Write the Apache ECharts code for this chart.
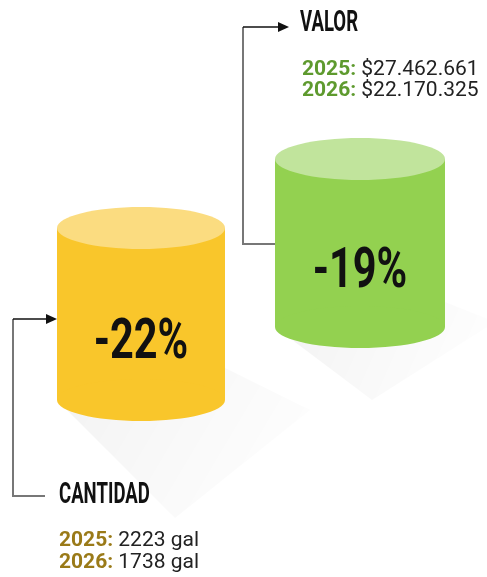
<!DOCTYPE html>
<html>
<head>
<meta charset="utf-8">
<script src="https://cdn.jsdelivr.net/npm/echarts@6/dist/echarts.min.js"></script>
<style>
  html, body { margin: 0; padding: 0; background: #fff; }
  #main { width: 487px; height: 577px; }
</style>
</head>
<body>
<div id="main"></div>
<script>
// datos
const categorias = ['CANTIDAD', 'VALOR'];
const variacion = [-22, -19];
const anios = ['2025', '2026'];
const valores2025 = [2223, 27462661];
const valores2026 = [1738, 22170325];
const unidades = ['gal', '$'];

// colores de cada cilindro
const colorCuerpo = ['#F9C62B', '#93D150'];
const colorTapa = ['#FBDC80', '#C1E49C'];
const colorAnio = ['#9A7A18', '#5E9A2E'];

// posicion de cada cilindro (px): centro x, y tapa, y base, radios
const cilindros = [
  { cx: 141, top: 228, base: 400, rx: 84, ry: 21, sombra: [[57, 400], [175, 518], [310, 410], [225, 368]] },
  { cx: 360, top: 159, base: 327, rx: 85, ry: 21, sombra: [[275, 327], [372, 400], [495, 322], [445, 302]] }
];

function formato(v) {
  return v.toString().replace(/\B(?=(\d{3})+(?!\d))/g, '.');
}
function textoValor(i, v) {
  return unidades[i] === '$' ? '$' + formato(v) : v + ' ' + unidades[i];
}

const myChart = echarts.init(document.getElementById('main'));

function renderCilindro(params, api) {
  const i = params.dataIndex;
  const c = cilindros[i];
  const p0 = api.coord([c.cx, c.top]);
  const p1 = api.coord([c.cx, c.base]);
  const rx = api.coord([c.cx + c.rx, c.top])[0] - p0[0];
  const ry = api.coord([c.cx, c.top + c.ry])[1] - p0[1];
  const pts = c.sombra.map(function (p) { return api.coord(p); });
  const pct = api.value(1);
  return {
    type: 'group',
    children: [
      {
        type: 'polygon',
        shape: { points: pts },
        style: {
          fill: new echarts.graphic.LinearGradient(0, 0, 1, 1, [
            { offset: 0, color: 'rgba(0,0,0,0.05)' },
            { offset: 0.5, color: 'rgba(0,0,0,0.025)' },
            { offset: 1, color: 'rgba(0,0,0,0)' }
          ])
        }
      },
      {
        type: 'rect',
        shape: { x: p0[0] - rx, y: p0[1], width: rx * 2, height: p1[1] - p0[1] },
        style: { fill: colorCuerpo[i] }
      },
      {
        type: 'ellipse',
        shape: { cx: p1[0], cy: p1[1], rx: rx, ry: ry },
        style: { fill: colorCuerpo[i] }
      },
      {
        type: 'ellipse',
        shape: { cx: p0[0], cy: p0[1], rx: rx, ry: ry },
        style: { fill: colorTapa[i] }
      },
      {
        type: 'text',
        x: p0[0],
        y: (p0[1] + p1[1]) / 2 + 30,
        scaleX: 0.74,
        style: {
          text: pct + '%',
          fill: '#111',
          font: 'bold 56px Roboto',
          align: 'center',
          verticalAlign: 'middle'
        }
      }
    ]
  };
}

// rótulos con flechas
const rotulos = [
  { x: 59, y: 495.5, vx: 59, vy: 541, dy: 22 },
  { x: 300, y: 24, vx: 302, vy: 70, dy: 21 }
];

const graficos = [];
categorias.forEach(function (cat, i) {
  const r = rotulos[i];
  graficos.push({
    type: 'text',
    x: r.x,
    y: r.y,
    scaleX: 0.64,
    style: { text: cat, font: 'bold 29px Roboto', fill: '#111', verticalAlign: 'middle' }
  });
  [valores2025[i], valores2026[i]].forEach(function (v, k) {
    graficos.push({
      type: 'text',
      x: r.vx,
      y: r.vy + k * r.dy,
      style: {
        text: '{a|' + anios[k] + ':}{b| ' + textoValor(i, v) + '}',
        verticalAlign: 'middle',
        rich: {
          a: { font: 'bold 21px Roboto', fill: colorAnio[i] },
          b: { font: '21px Roboto', fill: '#222' }
        }
      }
    });
  });
});

// lineas conectoras
graficos.push(
  { type: 'polyline', shape: { points: [[45, 496], [13, 496], [13, 319]] }, style: { stroke: '#777', lineWidth: 2, fill: null } },
  { type: 'polyline', shape: { points: [[13, 319], [48, 319]] }, style: { stroke: '#111', lineWidth: 1.5, fill: null } },
  { type: 'polygon', shape: { points: [[57, 319], [46, 314], [46, 324]] }, style: { fill: '#111' } },
  { type: 'polyline', shape: { points: [[276, 244], [243, 244], [243, 27]] }, style: { stroke: '#777', lineWidth: 2, fill: null } },
  { type: 'polyline', shape: { points: [[243, 27], [280, 27]] }, style: { stroke: '#111', lineWidth: 1.5, fill: null } },
  { type: 'polygon', shape: { points: [[289, 27], [278, 22], [278, 32]] }, style: { fill: '#111' } }
);

myChart.setOption({
  animation: false,
  grid: { left: 0, right: 0, top: 0, bottom: 0 },
  xAxis: { type: 'value', min: 0, max: 487, show: false },
  yAxis: { type: 'value', min: 0, max: 577, inverse: true, show: false },
  graphic: graficos,
  series: [{
    type: 'custom',
    renderItem: renderCilindro,
    data: variacion.map(function (v, i) { return [i, v]; }),
    z: 1
  }]
});
</script>
</body>
</html>
